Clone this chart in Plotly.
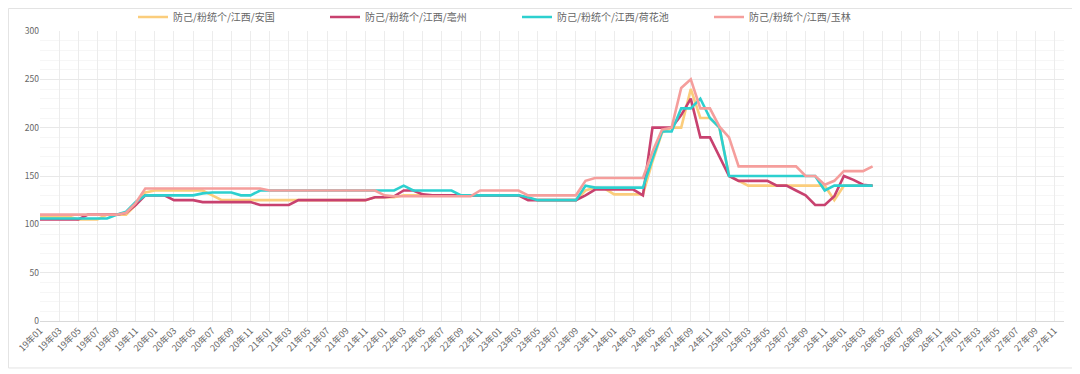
import plotly.graph_objects as go

# categories: 19年01 .. 27年12
years = ["19", "20", "21", "22", "23", "24", "25", "26", "27"]
months = ["01", "02", "03", "04", "05", "06", "07", "08", "09", "10", "11", "12"]
categories = [f"{y}年{m}" for y in years for m in months]
tick_labels = categories[::2]

names = ["防己/粉统个/江西/安国", "防己/粉统个/江西/亳州", "防己/粉统个/江西/荷花池", "防己/粉统个/江西/玉林"]
colors = ["#fbcd7c", "#c8416f", "#2dd0cf", "#f59e9c"]

anguo = [108, 108, 108, 108, 105, 105, 105, 110, 110, 110, 120, 133,
         135, 135, 135, 135, 135, 135, 130, 125, 125, 125, 125, 125,
         125, 125, 125, 125, 125, 125, 125, 125, 125, 125, 125, 128,
         128, 128, 130, 130, 130, 130, 130, 130, 130, 130, 130, 130,
         130, 130, 130, 127, 125, 125, 125, 125, 125, 135, 138, 137,
         131, 131, 131, 131, 165, 195, 200, 200, 240, 210, 210, 200,
         150, 145, 140, 140, 140, 140, 140, 140, 140, 140, 140, 125,
         140, 140, 140, 140]

bozhou = [105, 105, 105, 105, 105, 110, 110, 110, 110, 112, 120, 130,
          130, 130, 125, 125, 125, 123, 123, 123, 123, 123, 123, 120,
          120, 120, 120, 125, 125, 125, 125, 125, 125, 125, 125, 128,
          128, 129, 135, 135, 131, 130, 130, 130, 130, 130, 130, 130,
          130, 130, 130, 125, 125, 125, 125, 125, 125, 130, 136, 136,
          136, 136, 136, 130, 200, 200, 200, 213, 230, 190, 190, 170,
          150, 145, 145, 145, 145, 140, 140, 135, 130, 120, 120, 129,
          150, 146, 141, 140]

hehuachi = [106, 106, 106, 106, 106, 106, 106, 106, 110, 113, 123, 130,
            130, 130, 130, 130, 130, 132, 133, 133, 133, 130, 130, 135,
            135, 135, 135, 135, 135, 135, 135, 135, 135, 135, 135, 135,
            135, 135, 140, 135, 135, 135, 135, 135, 130, 130, 130, 130,
            130, 130, 130, 128, 125, 125, 125, 125, 125, 140, 138, 138,
            138, 138, 138, 138, 168, 196, 196, 220, 220, 230, 210, 200,
            150, 150, 150, 150, 150, 150, 150, 150, 150, 150, 135, 140,
            140, 140, 140, 140]

yulin = [110, 110, 110, 110, 110, 110, 110, 110, 110, 112, 122, 137,
         137, 137, 137, 137, 137, 137, 137, 137, 137, 137, 137, 137,
         135, 135, 135, 135, 135, 135, 135, 135, 135, 135, 135, 135,
         130, 129, 129, 129, 129, 129, 129, 129, 129, 129, 135, 135,
         135, 135, 135, 130, 130, 130, 130, 130, 130, 145, 148, 148,
         148, 148, 148, 148, 175, 198, 200, 241, 250, 220, 220, 201,
         190, 160, 160, 160, 160, 160, 160, 160, 150, 150, 141, 145,
         155, 155, 155, 160]

series = [anguo, bozhou, hehuachi, yulin]

fig = go.Figure()
for name, color, vals in zip(names, colors, series):
    fig.add_trace(go.Scatter(
        x=categories[:len(vals)], y=vals, name=name, mode="lines",
        line=dict(color=color, width=2.6),
        hovertemplate="%{x}: %{y}<extra>" + name + "</extra>",
    ))

# page has an 8px body margin, so the figure is 1072x366 and sits at (8, 8)
fig.update_layout(
    width=1072, height=366,
    margin=dict(l=32, r=16, t=23, b=53, autoexpand=False),
    paper_bgcolor="white", plot_bgcolor="white",
    font=dict(family="Noto Sans CJK SC, Noto Sans, sans-serif", color="#666", size=9),
    showlegend=True,
    legend=dict(
        orientation="h", xref="container", yref="container",
        x=125 / 1072, xanchor="left", y=1 - 9 / 366, yanchor="middle",
        entrywidth=147, entrywidthmode="pixels", itemwidth=30,
        font=dict(size=10, color="#666"),
        bgcolor="rgba(0,0,0,0)",
    ),
    shapes=[dict(
        type="rect", xref="paper", yref="paper",
        x0=-0.0308, x1=1.0137, y0=-0.162, y1=1.0776,
        line=dict(color="#e3e3e3", width=1), fillcolor="rgba(0,0,0,0)",
        layer="below",
    )],
)

fig.update_xaxes(
    type="category", categoryorder="array", categoryarray=categories,
    range=[0, len(categories) - 1], automargin=False,
    tickmode="array", tickvals=tick_labels, ticktext=tick_labels,
    tickangle=-45, tickfont=dict(size=9, color="#666"),
    showgrid=True, gridcolor="#ececec", gridwidth=1,
    showline=True, linecolor="#d9d9d9", linewidth=1,
    ticks="", zeroline=False,
)
fig.update_yaxes(
    range=[0, 300], dtick=50, tickfont=dict(size=8.5, color="#666"),
    automargin=False,
    showgrid=True, gridcolor="#e8e8e8", gridwidth=1,
    minor=dict(dtick=10, showgrid=True, gridcolor="#f6f6f6", gridwidth=1),
    zeroline=False, showline=False, ticks="",
)

fig.write_html("out.html")
